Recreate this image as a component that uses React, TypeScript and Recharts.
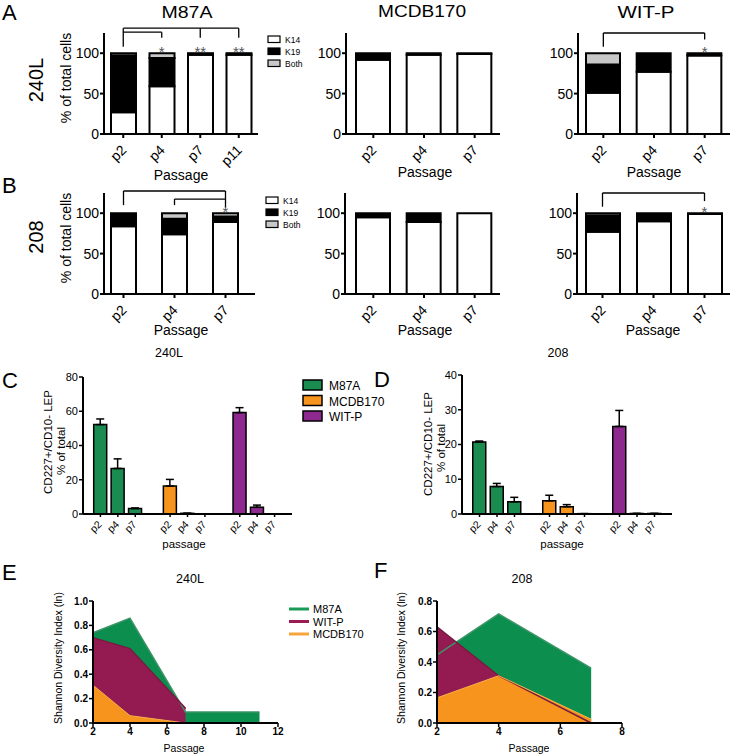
import React from 'react';
import {
  BarChart, Bar, XAxis, YAxis, ReferenceLine, ReferenceDot, Cell, ErrorBar,
  ComposedChart, Area, Line,
} from 'recharts';

const FONT = '"Liberation Sans", Arial, Helvetica, sans-serif';

// ---------- Panels A / B : stacked K14 / K19 / Both ----------
const A_M87A_PASSAGES = ['p2', 'p4', 'p7', 'p11'];
const A_M87A_K14 = [27, 59, 98, 98];
const A_M87A_K19 = [70, 35, 2, 2];
const A_M87A_BOTH = [3, 6, 0, 0];
const A_M87A_STARS = ['', '*', '**', '**'];

const A_MCDB_PASSAGES = ['p2', 'p4', 'p7'];
const A_MCDB_K14 = [92, 98, 99];
const A_MCDB_K19 = [8, 2, 1];
const A_MCDB_BOTH = [0, 0, 0];

const A_WITP_PASSAGES = ['p2', 'p4', 'p7'];
const A_WITP_K14 = [51, 77, 97];
const A_WITP_K19 = [35, 23, 3];
const A_WITP_BOTH = [14, 0, 0];
const A_WITP_STARS = ['', '', '*'];

const B_M87A_PASSAGES = ['p2', 'p4', 'p7'];
const B_M87A_K14 = [84, 74, 89];
const B_M87A_K19 = [16, 19, 7];
const B_M87A_BOTH = [0, 7, 4];
const B_M87A_STARS = ['', '', '*'];

const B_MCDB_PASSAGES = ['p2', 'p4', 'p7'];
const B_MCDB_K14 = [95, 89, 100];
const B_MCDB_K19 = [5, 11, 0];
const B_MCDB_BOTH = [0, 0, 0];

const B_WITP_PASSAGES = ['p2', 'p4', 'p7'];
const B_WITP_K14 = [77, 90, 99];
const B_WITP_K19 = [20, 10, 1];
const B_WITP_BOTH = [3, 0, 0];
const B_WITP_STARS = ['', '', '*'];

const STACK_TICKS = [0, 50, 100];
const STACK_LEGEND = ['K14', 'K19', 'Both'];

// significance brackets (data coordinates: category, % level)
const A_M87A_BRACKETS = [
  { from: 'p2', to: 'p11', level: 131, ends: [{ at: 'p2', to: 108 }, { at: 'p7', to: 119 }, { at: 'p11', to: 119 }] },
  { from: 'p2', to: 'p4', level: 126, ends: [{ at: 'p4', to: 119 }] },
];
const A_WITP_BRACKETS = [
  { from: 'p2', to: 'p7', level: 125, ends: [{ at: 'p2', to: 108 }, { at: 'p7', to: 117 }] },
];
const B_M87A_BRACKETS = [
  { from: 'p2', to: 'p7', level: 127.5, ends: [{ at: 'p2', to: 110 }, { at: 'p7', to: 107 }] },
  { from: 'p4', to: 'p7', level: 117.5, ends: [{ at: 'p4', to: 110 }] },
];
const B_WITP_BRACKETS = [
  { from: 'p2', to: 'p7', level: 125, ends: [{ at: 'p2', to: 108 }, { at: 'p7', to: 115 }] },
];

// ---------- Panels C / D : CD227+/CD10- LEP ----------
const CD_POSITIONS = [1, 2, 3, 5, 6, 7, 9, 10, 11];
const CD_PASSAGES = ['p2', 'p4', 'p7', 'p2', 'p4', 'p7', 'p2', 'p4', 'p7'];
const CD_LINES = ['M87A', 'M87A', 'M87A', 'MCDB170', 'MCDB170', 'MCDB170', 'WIT-P', 'WIT-P', 'WIT-P'];
const C_VALUES = [52.2, 26.6, 3.2, 16.3, 0.4, 0, 59.2, 3.9, 0];
const C_ERRORS = [3.3, 5.6, 0.3, 3.9, 0, 0, 2.9, 1.3, 0];
const D_VALUES = [20.7, 7.9, 3.5, 3.8, 2.1, 0.1, 25.2, 0.15, 0.15];
const D_ERRORS = [0.3, 0.9, 1.3, 1.6, 0.6, 0, 4.6, 0, 0];
const C_TICKS = [0, 20, 40, 60, 80];
const D_TICKS = [0, 10, 20, 30, 40];
const CD_LEGEND = ['M87A', 'MCDB170', 'WIT-P'];

// ---------- Panels E / F : Shannon diversity ----------
const E_PASSAGE = [2, 4, 7, 11];
const E_M87A = [0.74, 0.86, 0.09, 0.09];
const E_WITP = [0.7, 0.61, 0.12, null];
const E_MCDB = [0.31, 0.06, 0.0, null];
const F_PASSAGE = [2, 4, 7];
const F_M87A = [0.446, 0.715, 0.36];
const F_WITP = [0.63, 0.31, 0.0];
const F_MCDB = [0.165, 0.31, 0.025];
const E_XTICKS = [2, 4, 6, 8, 10, 12];
const E_YTICKS = [0, 0.2, 0.4, 0.6, 0.8, 1.0];
const F_XTICKS = [2, 4, 6, 8];
const F_YTICKS = [0, 0.2, 0.4, 0.6, 0.8];
const EF_LEGEND = ['M87A', 'WIT-P', 'MCDB170'];

const COLORS: Record<string, string> = { 'M87A': '#1b8c4f', 'MCDB170': '#f7941d', 'WIT-P': '#8e2a8f' };
const DIV_FILL: Record<string, string> = { 'M87A': '#0b8e4e', 'WIT-P': '#931b51', 'MCDB170': '#f7941d' };
const DIV_LINE: Record<string, string> = { 'M87A': '#1a9a57', 'WIT-P': '#9a1c52', 'MCDB170': '#f7a43c' };
const STACK_FILL: Record<string, string> = { K14: '#ffffff', K19: '#000000', Both: '#c8c8c8' };

const AX = { stroke: '#000', strokeWidth: 2 };

const rotTick = (fs: number, dx: number, dy: number, fmt?: (v: any) => string) => (props: any) => {
  const { x, y, payload } = props;
  const label = fmt ? fmt(payload.value) : payload.value;
  const px = x + dx;
  const py = y + dy;
  return (
    <text x={px} y={py} textAnchor="end" transform={`rotate(-45 ${px} ${py})`} fontSize={fs} fill="#000"
      fontFamily={FONT}>{label}</text>
  );
};

function StackPanel(props: any) {
  const { x0, x1, yTop, yBot, cats, k14, k19, both, barSize, stars, brackets, padL = 0, padR = 0 } = props;
  const data = cats.map((p: string, i: number) => ({ p, K14: k14[i], K19: k19[i], Both: both[i] }));
  const PL = 60, PR = 6, PT = 40, PB = 50;
  const w = x1 - x0 + PL + PR;
  const h = yBot - yTop + PT + PB;
  return (
    <div style={{ position: 'absolute', left: x0 - PL, top: yTop - PT }}>
      <BarChart width={w} height={h} data={data} margin={{ top: PT, right: PR, bottom: 0, left: 0 }}>
        <XAxis dataKey="p" height={PB} axisLine={AX} tickLine={AX} tickSize={4} tickMargin={2}
          interval={0} padding={{ left: padL, right: padR }} tick={rotTick(14, 4, 11)} />
        <YAxis width={PL} domain={[0, 125]} ticks={STACK_TICKS} axisLine={AX} tickLine={AX} tickSize={4}
          tickMargin={1} tick={{ fontSize: 14, fill: '#000', fontFamily: FONT }} allowDataOverflow />
        {STACK_LEGEND.map((k) => (
          <Bar key={k} dataKey={k} stackId="s" fill={STACK_FILL[k]} stroke="#000" strokeWidth={2}
            barSize={barSize} isAnimationActive={false} />
        ))}
        {(brackets || []).map((b: any, bi: number) => (
          <React.Fragment key={'b' + bi}>
            <ReferenceLine segment={[{ x: b.from, y: b.level }, { x: b.to, y: b.level }]} stroke="#000"
              strokeWidth={1.3} ifOverflow="visible" />
            {b.ends.map((e: any, ei: number) => (
              <ReferenceLine key={'e' + ei} segment={[{ x: e.at, y: b.level }, { x: e.at, y: e.to }]}
                stroke="#000" strokeWidth={1.3} ifOverflow="visible" />
            ))}
          </React.Fragment>
        ))}
        {(stars || []).map((s: string, i: number) => s ? (
          <ReferenceDot key={'s' + i} x={cats[i]} y={100} r={0} ifOverflow="visible"
            shape={(sp: any) => (
              <text x={sp.cx} y={sp.cy + 4} textAnchor="middle" fontSize={15} fill="#555" fontFamily={FONT}>{s}</text>
            )} />
        ) : null)}
      </BarChart>
    </div>
  );
}

function CDPanel(props: any) {
  const { x0, x1, yTop, yBot, values, errors, ymax, ticks } = props;
  const data = CD_POSITIONS.map((pos, i) => ({ pos, v: values[i], e: [0, errors[i]], line: CD_LINES[i] }));
  const PL = 40, PR = 6, PT = 10, PB = 34;
  const w = x1 - x0 + PL + PR;
  const h = yBot - yTop + PT + PB;
  const fmt = (v: number) => CD_PASSAGES[CD_POSITIONS.indexOf(v)];
  return (
    <div style={{ position: 'absolute', left: x0 - PL, top: yTop - PT }}>
      <BarChart width={w} height={h} data={data} margin={{ top: PT, right: PR, bottom: 0, left: 0 }}>
        <XAxis type="number" dataKey="pos" domain={[0, 12]} ticks={CD_POSITIONS} height={PB} interval={0}
          axisLine={AX} tickLine={{ stroke: '#000', strokeWidth: 1.5 }} tickSize={3} tickMargin={2}
          tick={rotTick(10.5, 2, 6, fmt)} />
        <YAxis width={PL} domain={[0, ymax]} ticks={ticks} axisLine={AX} tickLine={{ stroke: '#000', strokeWidth: 1.5 }}
          tickSize={4} tickMargin={1} tick={{ fontSize: 11, fill: '#000', fontFamily: FONT }} />
        <Bar dataKey="v" barSize={13} stroke="#000" strokeWidth={1.5} isAnimationActive={false}>
          {data.map((d, i) => <Cell key={i} fill={COLORS[d.line]} />)}
          <ErrorBar dataKey="e" width={4} stroke="#000" strokeWidth={1.5} direction="y" />
        </Bar>
      </BarChart>
    </div>
  );
}

function DivPanel(props: any) {
  const { x0, x1, yTop, yBot, xs, m, wp, mc, xmax, ymax, xticks, yticks } = props;
  const data = xs.map((x: number, i: number) => ({ x, m: m[i], w: wp[i], c: mc[i] }));
  const PL = 40, PR = 8, PT = 10, PB = 22;
  const w = x1 - x0 + PL + PR;
  const h = yBot - yTop + PT + PB;
  return (
    <div style={{ position: 'absolute', left: x0 - PL, top: yTop - PT }}>
      <ComposedChart width={w} height={h} data={data} margin={{ top: PT, right: PR, bottom: 0, left: 0 }}>
        <XAxis type="number" dataKey="x" domain={[2, xmax]} ticks={xticks} height={PB} interval={0}
          axisLine={AX} tickLine={{ stroke: '#000', strokeWidth: 1.5 }} tickSize={4} tickMargin={1}
          tick={{ fontSize: 10, fill: '#000', fontFamily: FONT, fontWeight: 600 }} />
        <YAxis width={PL} domain={[0, ymax]} ticks={yticks} axisLine={AX} tickLine={{ stroke: '#000', strokeWidth: 1.5 }}
          tickSize={4} tickMargin={1} tickFormatter={(v: number) => v.toFixed(1)}
          tick={{ fontSize: 10, fill: '#000', fontFamily: FONT, fontWeight: 600 }} />
        <Area type="linear" dataKey="m" fill={DIV_FILL['M87A']} fillOpacity={1} stroke="none" isAnimationActive={false} />
        <Area type="linear" dataKey="w" fill={DIV_FILL['WIT-P']} fillOpacity={1} stroke="none" isAnimationActive={false} />
        <Area type="linear" dataKey="c" fill={DIV_FILL['MCDB170']} fillOpacity={1} stroke="none" isAnimationActive={false} />
        <Line type="linear" dataKey="m" stroke="#3f9468" strokeWidth={1.5} dot={false} isAnimationActive={false} />
        <Line type="linear" dataKey="w" stroke="#7a1a40" strokeWidth={1.5} dot={false} isAnimationActive={false} />
        <Line type="linear" dataKey="c" stroke="#f6b24a" strokeWidth={1} dot={false} isAnimationActive={false} />
      </ComposedChart>
    </div>
  );
}

const VText = ({ x, y, size, children }: any) => (
  <text transform={`translate(${x},${y}) rotate(-90)`} textAnchor="middle" fontSize={size} fill="#000">{children}</text>
);

function Overlay() {
  return (
    <svg width={731} height={756} style={{ position: 'absolute', left: 0, top: 0 }} fontFamily={FONT}>
      {/* panel letters */}
      <text x={2} y={20} fontSize={22}>A</text>
      <text x={2} y={193} fontSize={22}>B</text>
      <text x={2} y={388} fontSize={22}>C</text>
      <text x={374} y={387} fontSize={22}>D</text>
      <text x={2} y={580} fontSize={22}>E</text>
      <text x={374} y={578} fontSize={22}>F</text>

      {/* row labels */}
      <VText x={43} y={80} size={20}>240L</VText>
      <VText x={43} y={237} size={20}>208</VText>

      {/* titles */}
      <text x={187} y={18} fontSize={16} textAnchor="middle" textLength={51} lengthAdjust="spacingAndGlyphs">M87A</text>
      <text x={422} y={17} fontSize={16} textAnchor="middle" textLength={88} lengthAdjust="spacingAndGlyphs">MCDB170</text>
      <text x={646} y={18} fontSize={16} textAnchor="middle" textLength={57} lengthAdjust="spacingAndGlyphs">WIT-P</text>

      {/* y labels A/B */}
      <VText x={71} y={78} size={14}>% of total cells</VText>
      <VText x={71} y={238} size={14}>% of total cells</VText>

      {/* Passage labels A/B */}
      <text x={181} y={180} fontSize={14} textAnchor="middle">Passage</text>
      <text x={425} y={177} fontSize={14} textAnchor="middle">Passage</text>
      <text x={654} y={177} fontSize={14} textAnchor="middle">Passage</text>
      <text x={181} y={335} fontSize={14} textAnchor="middle">Passage</text>
      <text x={425} y={335} fontSize={14} textAnchor="middle">Passage</text>
      <text x={653} y={335} fontSize={14} textAnchor="middle">Passage</text>

      {/* K14/K19/Both legends */}
      {STACK_LEGEND.map((k, i) => (
        <g key={'la' + i}>
          <rect x={268} y={36 + i * 12} width={12} height={6.5} fill={STACK_FILL[k]} stroke="#000" strokeWidth={1.2} />
          <text x={285} y={42.5 + i * 12} fontSize={8.5}>{k}</text>
          <rect x={266} y={197 + i * 12} width={12} height={6.5} fill={STACK_FILL[k]} stroke="#000" strokeWidth={1.2} />
          <text x={283} y={203.5 + i * 12} fontSize={8.5}>{k}</text>
        </g>
      ))}

      {/* C/D headers */}
      <text x={169} y={357} fontSize={12.5} textAnchor="middle">240L</text>
      <text x={558} y={357} fontSize={12.5} textAnchor="middle">208</text>

      <VText x={52} y={442} size={11.5}>CD227+/CD10- LEP</VText>
      <VText x={65} y={451} size={11.5}>% of total</VText>
      <VText x={432} y={444} size={11.5}>CD227+/CD10- LEP</VText>
      <VText x={445} y={448} size={11.5}>% of total</VText>
      <text x={184} y={548} fontSize={11.5} textAnchor="middle">passage</text>
      <text x={562} y={548} fontSize={11.5} textAnchor="middle">passage</text>

      {CD_LEGEND.map((k, i) => (
        <g key={'lc' + i}>
          <rect x={303} y={380 + i * 15.5} width={19} height={10} fill={COLORS[k]} stroke="#000" strokeWidth={1.5} />
          <text x={329} y={390 + i * 15.5} fontSize={12}>{k}</text>
        </g>
      ))}

      {/* E / F */}
      <text x={190} y={583} fontSize={12.5} textAnchor="middle">240L</text>
      <text x={522} y={583} fontSize={12.5} textAnchor="middle">208</text>
      <VText x={62} y={658} size={10.5}>Shannon Diversity Index (ln)</VText>
      <VText x={405} y={658} size={10.5}>Shannon Diversity Index (ln)</VText>
      <text x={184} y={752} fontSize={10.5} textAnchor="middle">Passage</text>
      <text x={529} y={752} fontSize={10.5} textAnchor="middle">Passage</text>
      {EF_LEGEND.map((k, i) => (
        <g key={'le' + i}>
          <line x1={289} x2={309} y1={609 + i * 12.5} y2={609 + i * 12.5} stroke={DIV_LINE[k]} strokeWidth={3} />
          <text x={313} y={613 + i * 12.5} fontSize={11}>{k}</text>
        </g>
      ))}
    </svg>
  );
}

export default function App() {
  return (
    <div style={{ position: 'absolute', left: 0, top: 0, width: 731, height: 756, overflow: 'hidden', background: '#fff', fontFamily: FONT }}>
      <Overlay />
      <StackPanel x0={104} x1={258} yTop={33} yBot={134} cats={A_M87A_PASSAGES} k14={A_M87A_K14} k19={A_M87A_K19}
        both={A_M87A_BOTH} barSize={25} stars={A_M87A_STARS} brackets={A_M87A_BRACKETS} />
      <StackPanel x0={346} x1={500} yTop={33} yBot={134} cats={A_MCDB_PASSAGES} k14={A_MCDB_K14} k19={A_MCDB_K19}
        both={A_MCDB_BOTH} barSize={34} padL={2} />
      <StackPanel x0={578} x1={730} yTop={33} yBot={134} cats={A_WITP_PASSAGES} k14={A_WITP_K14} k19={A_WITP_K19}
        both={A_WITP_BOTH} barSize={34} stars={A_WITP_STARS} brackets={A_WITP_BRACKETS} />
      <StackPanel x0={104} x1={255} yTop={193} yBot={294} cats={B_M87A_PASSAGES} k14={B_M87A_K14} k19={B_M87A_K19}
        both={B_M87A_BOTH} barSize={25} stars={B_M87A_STARS} brackets={B_M87A_BRACKETS} padL={-6} padR={4} />
      <StackPanel x0={345} x1={500} yTop={193} yBot={294} cats={B_MCDB_PASSAGES} k14={B_MCDB_K14} k19={B_MCDB_K19}
        both={B_MCDB_BOTH} barSize={34} padL={3} />
      <StackPanel x0={577} x1={730} yTop={193} yBot={294} cats={B_WITP_PASSAGES} k14={B_WITP_K14} k19={B_WITP_K19}
        both={B_WITP_BOTH} barSize={34} stars={B_WITP_STARS} brackets={B_WITP_BRACKETS} />
      <CDPanel x0={83} x1={292} yTop={377} yBot={514} values={C_VALUES} errors={C_ERRORS} ymax={80} ticks={C_TICKS} />
      <CDPanel x0={462} x1={672} yTop={375} yBot={514} values={D_VALUES} errors={D_ERRORS} ymax={40} ticks={D_TICKS} />
      <DivPanel x0={93} x1={278} yTop={601} yBot={723} xs={E_PASSAGE} m={E_M87A} wp={E_WITP} mc={E_MCDB}
        xmax={12} ymax={1} xticks={E_XTICKS} yticks={E_YTICKS} />
      <DivPanel x0={437} x1={622} yTop={601} yBot={723} xs={F_PASSAGE} m={F_M87A} wp={F_WITP} mc={F_MCDB}
        xmax={8} ymax={0.8} xticks={F_XTICKS} yticks={F_YTICKS} />
    </div>
  );
}
